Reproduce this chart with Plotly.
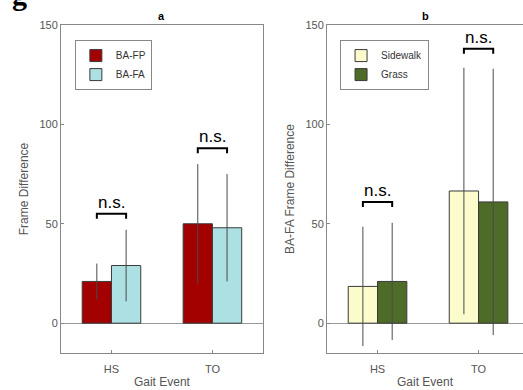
import plotly.graph_objects as go

# ---- data ----
events = ["HS", "TO"]
# panel a
ba_fp_mean = [21, 50]
ba_fp_err = [9, 30]
ba_fa_mean = [29, 48]
ba_fa_err = [18, 27]
bracket_a = [55, 88]
# panel b
sidewalk_mean = [18.5, 66.5]
sidewalk_err = [30, 62]
grass_mean = [21, 61]
grass_err = [29.5, 67]
bracket_b = [61, 138]

yticks = [0, 50, 100, 150]
xpos = [1, 2]
off = 0.145

font = "Liberation Sans, Arial, sans-serif"
gray = "#555555"

fig = go.Figure()

def add_bar(name, mean, err, color, xa, ya, legend):
    fig.add_trace(go.Bar(
        x=xpos, y=mean, name=name, xaxis=xa, yaxis=ya, legend=legend,
        marker=dict(color=color, line=dict(color="#3a3a3a", width=1)),
        error_y=dict(type="data", array=err, visible=True, color="#4a4a4a",
                     thickness=1, width=0),
    ))

add_bar("BA-FP", ba_fp_mean, ba_fp_err, "#a30000", "x", "y", "legend")
add_bar("BA-FA", ba_fa_mean, ba_fa_err, "#ade0e2", "x", "y", "legend")
add_bar("Sidewalk", sidewalk_mean, sidewalk_err, "#fbfbcc", "x2", "y2", "legend2")
add_bar("Grass", grass_mean, grass_err, "#4e6b27", "x2", "y2", "legend2")

shapes = []
annots = []
for xr, yr, brs in (("x", "y", bracket_a), ("x2", "y2", bracket_b)):
    for xc, by in zip(xpos, brs):
        x0, x1 = xc - off, xc + off
        shapes.append(dict(type="path", xref=xr, yref=yr,
                           path=f"M {x0},{by-2.5} L {x0},{by} L {x1},{by} L {x1},{by-2.5}",
                           line=dict(color="black", width=2)))
        annots.append(dict(x=xc, y=by, xref=xr, yref=yr, text="n.s.",
                           showarrow=False, yanchor="bottom",
                           font=dict(family=font, size=17, color="black")))

annots += [
    dict(x=0.5, y=1.0, xref="x domain", yref="y domain", text="<b>a</b>",
         showarrow=False, yanchor="bottom", yshift=1,
         font=dict(family=font, size=11, color="black")),
    dict(x=0.5, y=1.0, xref="x2 domain", yref="y2 domain", text="<b>b</b>",
         showarrow=False, yanchor="bottom", yshift=1,
         font=dict(family=font, size=11, color="black")),
    dict(x=0.0, y=1.0, xref="paper", yref="paper", text="<b>g</b>",
         showarrow=False, xanchor="left", yanchor="bottom", xshift=-51, yshift=12,
         font=dict(family="Liberation Serif, serif", size=30, color="black")),
]

axis_common = dict(showline=True, linecolor="#888888", linewidth=1,
                   ticks="inside", ticklen=3, tickcolor="#888888",
                   tickfont=dict(family=font, size=11, color=gray),
                   showgrid=False)

fig.update_layout(
    width=523, height=390,
    margin=dict(l=61, r=0, t=25, b=37),
    paper_bgcolor="white", plot_bgcolor="white",
    barmode="group", bargap=0.42, bargroupgap=0,
    font=dict(family=font, color=gray),
    xaxis=dict(domain=[0, 0.437], range=[0.5, 2.5], tickvals=xpos, ticktext=events,
               mirror=True, ticklabelstandoff=6,
               title=dict(text="Gait Event", standoff=3,
                          font=dict(family=font, size=12, color=gray)),
               **axis_common),
    yaxis=dict(range=[-15, 150], tickvals=yticks, mirror=True,
               zeroline=True, zerolinecolor="#999999", zerolinewidth=1,
               title=dict(text="Frame Difference", standoff=8,
                          font=dict(family=font, size=12, color=gray)),
               **axis_common),
    xaxis2=dict(domain=[0.5758, 1.0], range=[0.5, 2.44], tickvals=xpos, ticktext=events,
                mirror=True, anchor="y2", ticklabelstandoff=6,
                title=dict(text="Gait Event", standoff=3,
                           font=dict(family=font, size=12, color=gray)),
                **axis_common),
    yaxis2=dict(range=[-15, 150], tickvals=yticks, anchor="x2", mirror=False,
                zeroline=True, zerolinecolor="#999999", zerolinewidth=1,
                title=dict(text="BA-FA Frame Difference", standoff=8,
                           font=dict(family=font, size=12, color=gray)),
                **axis_common),
    legend=dict(x=0.03, y=0.954, xanchor="left", yanchor="top",
                bordercolor="#888888", borderwidth=1, bgcolor="white",
                font=dict(family=font, size=10, color="#333333"),
                tracegroupgap=0, itemwidth=30),
    legend2=dict(x=0.604, y=0.954, xanchor="left", yanchor="top",
                 bordercolor="#888888", borderwidth=1, bgcolor="white",
                 font=dict(family=font, size=10, color="#333333"),
                 tracegroupgap=0, itemwidth=30),
    shapes=shapes,
    annotations=annots,
)

fig.write_html("out.html")
